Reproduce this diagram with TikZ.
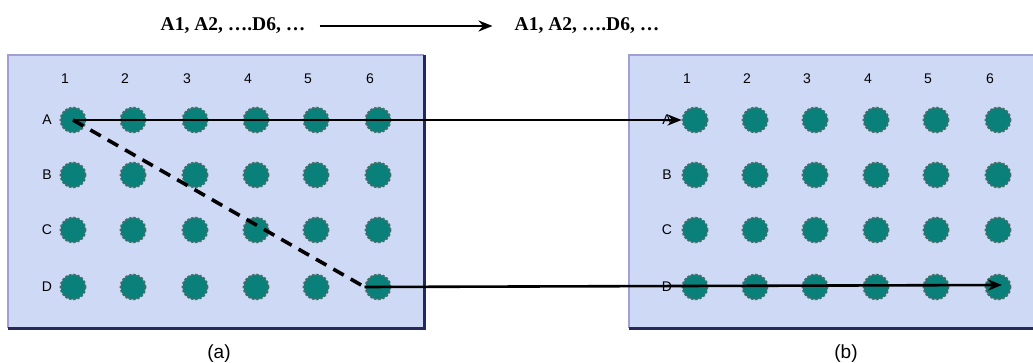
\documentclass[tikz,border=0pt]{standalone}
\usepackage{fontspec}
\setmainfont{Liberation Serif}
\setsansfont{Liberation Sans}
\usetikzlibrary{arrows.meta}
\definecolor{platefill}{RGB}{205,217,245}
\definecolor{plateedge}{RGB}{160,160,215}
\definecolor{platedark}{RGB}{40,40,95}
\definecolor{welltea}{RGB}{10,128,122}
\definecolor{wellrim}{RGB}{70,110,105}
\tikzset{
  well/.style={circle, minimum size=25pt, inner sep=0pt, fill=welltea, draw=wellrim, line width=1.8pt, dash pattern=on 2.4pt off 1.8pt},
  lbl/.style={font=\fontsize{14}{14}\selectfont\sffamily, inner sep=0pt},
  titletext/.style={font=\fontsize{19.5}{19.5}\selectfont\bfseries, inner sep=0pt},
  captext/.style={font=\fontsize{19}{19}\selectfont\sffamily, inner sep=0pt},
  conn/.style={line width=2.6pt, -{Stealth[length=14pt,width=11pt]}},
  dashconn/.style={line width=3.6pt, dash pattern=on 12pt off 8pt}
}
\begin{document}
\begin{tikzpicture}[x=1pt,y=-1pt]
\useasboundingbox (0,0) rectangle (1033,363);
\begin{scope}
\clip (0,0) rectangle (1033,363);
% left plate
\fill[platefill] (8,55) rectangle (424,328);
\draw[plateedge, line width=1.5pt] (424,55) -- (8,55) -- (8,328);
\draw[platedark, line width=3pt] (8,328) -- (424,328) -- (424,55);
% right plate
\fill[platefill] (629,55) rectangle (1040,328);
\draw[plateedge, line width=1.5pt] (1040,55) -- (629,55) -- (629,328);
\draw[platedark, line width=3pt] (629,328) -- (1040,328);
\end{scope}
% left wells
\foreach \c/\x in {1/73,2/133,3/195,4/256,5/316,6/378}{
  \node[lbl] (Lh\c) at (\x-8,79) {\c};
  \foreach \r/\y in {A/120,B/175,C/230,D/287}{
    \node[well] (L\r\c) at (\x,\y) {};
  }
}
\foreach \r/\y in {A/120,B/175,C/230,D/287}{
  \node[lbl] (Lr\r) at (47,\y) {\r};
}
% right wells
\foreach \c/\x in {1/695,2/755,3/815,4/876,5/936,6/998}{
  \node[lbl] (Rh\c) at (\x-8,79) {\c};
  \foreach \r/\y in {A/120,B/175,C/230,D/287}{
    \node[well] (R\r\c) at (\x,\y) {};
  }
}
\foreach \r/\y in {A/120,B/175,C/230,D/287}{
  \node[lbl] (Rr\r) at (667,\y) {\r};
}
% connectors
\draw[dashconn] (LA1.center) -- (LD6.west);
\draw[conn] (LA1.center) -- (RA1.west);
\draw[conn] (LD6.west) -- ([xshift=4pt,yshift=2pt]RD6.center);
% title
\node[titletext] (T1) at (233,26) {A1, A2, ….D6, …};
\node[titletext] (T2) at (587,26) {A1, A2, ….D6, …};
\draw[conn] ([xshift=14pt]T1.east) -- ([xshift=-22pt]T2.west);
% captions
\node[captext] (ca) at (219,354) {(a)};
\node[captext] (cb) at (846,354) {(b)};
\end{tikzpicture}
\end{document}
